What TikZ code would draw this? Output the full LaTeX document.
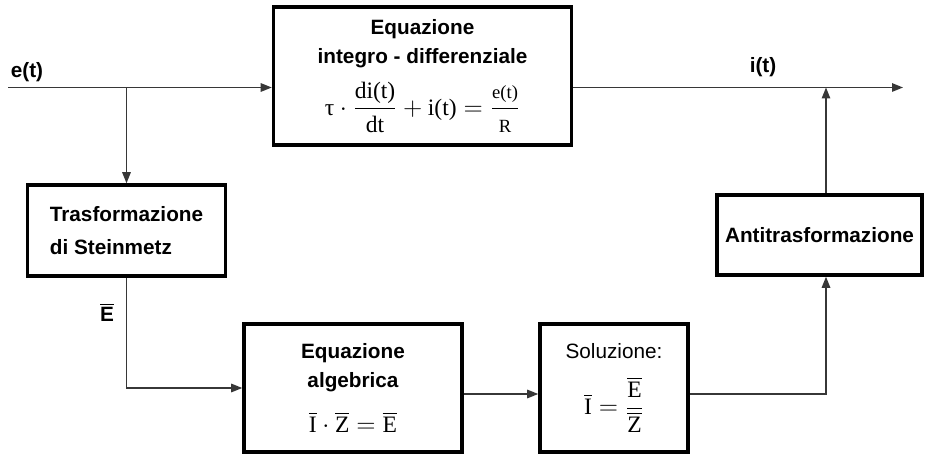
\documentclass[tikz,border=0pt]{standalone}
\usepackage{fontspec}
\setmainfont{Liberation Sans}
\setmathrm{Liberation Serif}
\newfontfamily\tms{Liberation Serif}
\usepackage{amsmath}
\usepackage{xcolor}
\usepackage{tikz}
\usetikzlibrary{arrows.meta,positioning}
\definecolor{LineGray}{RGB}{55,55,55}
\newcommand{\tm}[1]{\text{\tms\mdseries #1}}
\newcommand{\bartm}[1]{\overline{\tm{#1}}}
\newcommand{\smtm}[1]{\text{\tms\mdseries\fontsize{10.6}{12}\selectfont #1}}

\begin{document}
\begin{tikzpicture}[
    block/.style={draw=black,line width=2pt,fill=white,inner sep=4pt,align=center,
      font=\bfseries\fontsize{11.8}{16.5}\selectfont},
    conn/.style={-{Triangle[length=0.22cm,width=0.17cm]},LineGray,line width=0.8pt},
    lbl/.style={font=\bfseries\fontsize{11.8}{14}\selectfont}
  ]
  \useasboundingbox (0,0) rectangle (18.5,-9.1);
  % blocchi
  \node[block,minimum width=5.96cm,minimum height=2.76cm] (eqid) at (8.45,-1.52)
    {Equazione\\integro - differenziale\\[7pt]
     {\fontsize{13.4}{15}\selectfont $\tm{τ}\cdot\dfrac{\tm{di(t)}}{\tm{dt}}+\tm{i(t)}=\dfrac{\smtm{e(t)}}{\smtm{R}}$}};
  \node[block,align=left,minimum width=3.96cm,minimum height=1.82cm] (trasf) at (2.53,-4.61)
    {Trasformazione\\[2pt]di Steinmetz};
  \node[block,minimum width=4.36cm,minimum height=2.56cm] (eqalg) at (7.06,-7.76)
    {Equazione\\algebrica\\[9pt]
     {\fontsize{13.4}{15}\selectfont $\bartm{I}\cdot\bartm{Z}=\bartm{E}$}};
  \node[block,minimum width=2.96cm,minimum height=2.56cm] (sol) at (12.28,-7.76)
    {{\mdseries Soluzione:}\\[9pt]
     {\fontsize{13.4}{15}\selectfont $\bartm{I}=\dfrac{\bartm{E}}{\bartm{Z}}$}};
  \node[block,minimum width=4.1cm,minimum height=1.6cm] (anti) at (16.39,-4.70)
    {Antitrasformazione};
  % segnali
  \coordinate (ein) at (0.16,-1.75);
  \coordinate (tap) at (16.52,-1.75);
  \coordinate (iout) at (18.06,-1.75);
  \node[lbl] (le) at (0.54,-1.44) {e(t)};
  \node[lbl] (li) at (15.26,-1.34) {i(t)};
  \node[lbl] (lE) at (2.14,-6.24) {$\overline{\text{E}}$};
  % collegamenti
  \draw[conn] (ein) -- (ein -| eqid.west);
  \draw[conn] (trasf.north |- ein) -- (trasf.north);
  \draw[conn] (trasf.south) |- (eqalg.west);
  \draw[conn] ([yshift=-0.12cm]eqalg.east) -- ([yshift=-0.12cm]sol.west);
  \draw[conn] ([yshift=-0.12cm]sol.east) -| (anti.south -| tap);
  \draw[conn] (anti.north -| tap) -- (tap);
  \draw[conn] (eqid.east |- iout) -- (iout);
\end{tikzpicture}
\end{document}
